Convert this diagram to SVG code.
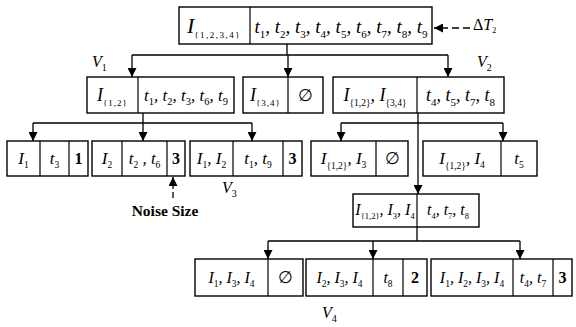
<svg xmlns="http://www.w3.org/2000/svg" width="576" height="327" viewBox="0 0 576 327">
<style>
.box{fill:#fff;stroke:#000;stroke-width:1.4}
.div{stroke:#000;stroke-width:1.2}
.c{fill:none;stroke:#000;stroke-width:1.3}
.m{font-family:"Liberation Serif","DejaVu Serif",serif;font-style:italic;font-size:17px;fill:#000;text-anchor:middle}
.s{font-style:normal;font-size:9.5px}
.n{font-family:"Liberation Serif","DejaVu Serif",serif;font-weight:bold;font-size:16px;fill:#000;text-anchor:middle}
.e{font-family:"DejaVu Serif","Liberation Serif",serif;font-size:17px;fill:#000;text-anchor:middle}
.lab{font-family:"Liberation Serif",serif;font-style:italic;font-size:16px;fill:#000}
</style>
<defs>
<marker id="ah" viewBox="0 0 10 10" refX="10" refY="5" markerWidth="9" markerHeight="9" markerUnits="userSpaceOnUse" orient="auto">
<path d="M0,0 L10,5 L0,10 z" fill="#000"/>
</marker>
</defs>
<rect width="576" height="327" fill="#fff"/>

<g id="connectors">
<path class="c" d="M287,44 V55 M132,55 H448"/>
<path class="c" d="M132,55 V77" marker-end="url(#ah)"/>
<path class="c" d="M288,55 V77" marker-end="url(#ah)"/>
<path class="c" d="M448,55 V77" marker-end="url(#ah)"/>
<path class="c" d="M143,113 V123 M33,123 H252"/>
<path class="c" d="M33,123 V141" marker-end="url(#ah)"/>
<path class="c" d="M143,123 V141" marker-end="url(#ah)"/>
<path class="c" d="M252,123 V141" marker-end="url(#ah)"/>
<path class="c" d="M341,123 H503"/>
<path class="c" d="M418,113 V194" marker-end="url(#ah)"/>
<path class="c" d="M341,123 V141" marker-end="url(#ah)"/>
<path class="c" d="M503,123 V141" marker-end="url(#ah)"/>
<path class="c" d="M417,227 V241 M268,241 H520"/>
<path class="c" d="M268,241 V259" marker-end="url(#ah)"/>
<path class="c" d="M373,241 V259" marker-end="url(#ah)"/>
<path class="c" d="M520,241 V259" marker-end="url(#ah)"/>
<path class="c" d="M470,28 H434" stroke-dasharray="7,4" marker-end="url(#ah)"/>
<path class="c" d="M173,198 V177" stroke-dasharray="6,3" marker-end="url(#ah)"/>
</g>

<g id="root">
<rect class="box" x="179" y="7" width="253" height="37"/>
<line class="div" x1="250" y1="7" x2="250" y2="44"/>
<text class="m" x="214" y="33" style="font-size:22px">I<tspan class="s" dy="5" style="font-size:9px;letter-spacing:1.5px">{1,2,3,4}</tspan></text>
<text class="m" x="341" y="33" style="font-size:19px">t<tspan class="s" dy="5" style="font-size:11px">1</tspan><tspan dy="-5">, t</tspan><tspan class="s" dy="5" style="font-size:11px">2</tspan><tspan dy="-5">, t</tspan><tspan class="s" dy="5" style="font-size:11px">3</tspan><tspan dy="-5">, t</tspan><tspan class="s" dy="5" style="font-size:11px">4</tspan><tspan dy="-5">, t</tspan><tspan class="s" dy="5" style="font-size:11px">5</tspan><tspan dy="-5">, t</tspan><tspan class="s" dy="5" style="font-size:11px">6</tspan><tspan dy="-5">, t</tspan><tspan class="s" dy="5" style="font-size:11px">7</tspan><tspan dy="-5">, t</tspan><tspan class="s" dy="5" style="font-size:11px">8</tspan><tspan dy="-5">, t</tspan><tspan class="s" dy="5" style="font-size:11px">9</tspan></text>
</g>

<g id="deltaT">
<text class="lab" x="473" y="30" style="font-style:normal">Δ<tspan style="font-style:italic">T</tspan><tspan class="s" dy="3" style="font-size:8px">2</tspan></text>
</g>

<g id="V1">
<rect class="box" x="87" y="77" width="147" height="36"/>
<line class="div" x1="138" y1="77" x2="138" y2="113"/>
<text class="m" x="112.5" y="101" style="font-size:18px">I<tspan class="s" dy="5" style="font-size:9px;letter-spacing:1px">{1,2}</tspan></text>
<text class="m" x="186" y="101">t<tspan class="s" dy="4" style="font-size:10.5px">1</tspan><tspan dy="-4">, t</tspan><tspan class="s" dy="4" style="font-size:10.5px">2</tspan><tspan dy="-4">, t</tspan><tspan class="s" dy="4" style="font-size:10.5px">3</tspan><tspan dy="-4">, t</tspan><tspan class="s" dy="4" style="font-size:10.5px">6</tspan><tspan dy="-4">, t</tspan><tspan class="s" dy="4" style="font-size:10.5px">9</tspan></text>
<text class="lab" x="92" y="67">V<tspan class="s" dy="4" style="font-size:10px">1</tspan></text>
</g>

<g id="I34">
<rect class="box" x="243" y="77" width="80" height="36"/>
<line class="div" x1="288" y1="77" x2="288" y2="113"/>
<text class="m" x="265.5" y="101" style="font-size:18px">I<tspan class="s" dy="5" style="font-size:9px;letter-spacing:1px">{3,4}</tspan></text>
<text class="e" x="305.5" y="101">∅</text>
</g>

<g id="V2">
<rect class="box" x="333" y="77" width="171" height="36"/>
<line class="div" x1="417" y1="77" x2="417" y2="113"/>
<text class="m" x="375" y="101" style="font-size:18px">I<tspan class="s" dy="5" style="font-size:9.5px">{1,2}</tspan><tspan dy="-5">, I</tspan><tspan class="s" dy="5" style="font-size:9.5px">{3,4}</tspan></text>
<text class="m" x="460.5" y="101" style="font-size:18px">t<tspan class="s" dy="5" style="font-size:11px">4</tspan><tspan dy="-5">, t</tspan><tspan class="s" dy="5" style="font-size:11px">5</tspan><tspan dy="-5">, t</tspan><tspan class="s" dy="5" style="font-size:11px">7</tspan><tspan dy="-5">, t</tspan><tspan class="s" dy="5" style="font-size:11px">8</tspan></text>
<text class="lab" x="477" y="67">V<tspan class="s" dy="4" style="font-size:10px">2</tspan></text>
</g>

<g id="nA">
<rect class="box" x="7" y="141" width="81" height="35"/>
<line class="div" x1="40" y1="141" x2="40" y2="176"/>
<line class="div" x1="69" y1="141" x2="69" y2="176"/>
<text class="m" x="23.5" y="164">I<tspan class="s" dy="4">1</tspan></text>
<text class="m" x="54.5" y="164">t<tspan class="s" dy="4">3</tspan></text>
<text class="n" x="78.5" y="164">1</text>
</g>

<g id="nB">
<rect class="box" x="92" y="141" width="93" height="35"/>
<line class="div" x1="122" y1="141" x2="122" y2="176"/>
<line class="div" x1="167" y1="141" x2="167" y2="176"/>
<text class="m" x="107" y="164">I<tspan class="s" dy="4">2</tspan></text>
<text class="m" x="144.5" y="164">t<tspan class="s" dy="4">2</tspan><tspan dy="-4"> , t</tspan><tspan class="s" dy="4">6</tspan></text>
<text class="n" x="176" y="164">3</text>
</g>

<g id="V3">
<rect class="box" x="190" y="141" width="112" height="35"/>
<line class="div" x1="233" y1="141" x2="233" y2="176"/>
<line class="div" x1="283" y1="141" x2="283" y2="176"/>
<text class="m" x="211.5" y="164">I<tspan class="s" dy="4">1</tspan><tspan dy="-4">, I</tspan><tspan class="s" dy="4">2</tspan></text>
<text class="m" x="258" y="164">t<tspan class="s" dy="4">1</tspan><tspan dy="-4">, t</tspan><tspan class="s" dy="4">9</tspan></text>
<text class="n" x="292.5" y="164">3</text>
<text class="lab" x="222" y="193">V<tspan class="s" dy="4" style="font-size:10px">3</tspan></text>
</g>

<g id="noise">
<text x="165" y="216" style="font-family:'Liberation Serif',serif;font-weight:bold;font-size:15.5px;text-anchor:middle">Noise Size</text>
</g>

<g id="nD">
<rect class="box" x="311" y="141" width="97" height="35"/>
<line class="div" x1="376" y1="141" x2="376" y2="176"/>
<text class="m" x="343.5" y="164">I<tspan class="s" dy="5">{1,2}</tspan><tspan dy="-5">, I</tspan><tspan class="s" dy="4">3</tspan></text>
<text class="e" x="392" y="164">∅</text>
</g>

<g id="nE">
<rect class="box" x="423" y="141" width="114" height="35"/>
<line class="div" x1="501" y1="141" x2="501" y2="176"/>
<text class="m" x="462" y="164">I<tspan class="s" dy="5">{1,2}</tspan><tspan dy="-5">, I</tspan><tspan class="s" dy="4">4</tspan></text>
<text class="m" x="519" y="164">t<tspan class="s" dy="4">5</tspan></text>
</g>

<g id="V4">
<rect class="box" x="353" y="194" width="126" height="33"/>
<line class="div" x1="417" y1="194" x2="417" y2="227"/>
<text class="m" x="385" y="215" style="font-size:16px">I<tspan class="s" dy="4" style="font-size:8.5px">{1,2}</tspan><tspan dy="-4">, I</tspan><tspan class="s" dy="4" style="font-size:8.5px">3</tspan><tspan dy="-4">, I</tspan><tspan class="s" dy="4" style="font-size:8.5px">4</tspan></text>
<text class="m" x="448" y="215" style="font-size:16px">t<tspan class="s" dy="4" style="font-size:8.5px">4</tspan><tspan dy="-4">, t</tspan><tspan class="s" dy="4" style="font-size:8.5px">7</tspan><tspan dy="-4">, t</tspan><tspan class="s" dy="4" style="font-size:8.5px">8</tspan></text>
<text class="lab" x="322" y="318">V<tspan class="s" dy="4" style="font-size:10px">4</tspan></text>
</g>

<g id="nF">
<rect class="box" x="195" y="259" width="108" height="37"/>
<line class="div" x1="268" y1="259" x2="268" y2="296"/>
<text class="m" x="231.5" y="283" style="font-size:16px">I<tspan class="s" dy="4">1</tspan><tspan dy="-4">, I</tspan><tspan class="s" dy="4">3</tspan><tspan dy="-4">, I</tspan><tspan class="s" dy="4">4</tspan></text>
<text class="e" x="285.5" y="283">∅</text>
</g>

<g id="nG">
<rect class="box" x="306" y="259" width="121" height="37"/>
<line class="div" x1="373" y1="259" x2="373" y2="296"/>
<line class="div" x1="403" y1="259" x2="403" y2="296"/>
<text class="m" x="339.5" y="283" style="font-size:16px">I<tspan class="s" dy="4">2</tspan><tspan dy="-4">, I</tspan><tspan class="s" dy="4">3</tspan><tspan dy="-4">, I</tspan><tspan class="s" dy="4">4</tspan></text>
<text class="m" x="388" y="283" style="font-size:16px">t<tspan class="s" dy="4">8</tspan></text>
<text class="n" x="415" y="283">2</text>
</g>

<g id="nH">
<rect class="box" x="431" y="259" width="141" height="37"/>
<line class="div" x1="513" y1="259" x2="513" y2="296"/>
<line class="div" x1="553" y1="259" x2="553" y2="296"/>
<text class="m" x="472" y="283" style="font-size:16px">I<tspan class="s" dy="4">1</tspan><tspan dy="-4">, I</tspan><tspan class="s" dy="4">2</tspan><tspan dy="-4">, I</tspan><tspan class="s" dy="4">3</tspan><tspan dy="-4">, I</tspan><tspan class="s" dy="4">4</tspan></text>
<text class="m" x="533" y="283" style="font-size:16px">t<tspan class="s" dy="4">4</tspan><tspan dy="-4">, t</tspan><tspan class="s" dy="4">7</tspan></text>
<text class="n" x="562.5" y="283">3</text>
</g>
</svg>
